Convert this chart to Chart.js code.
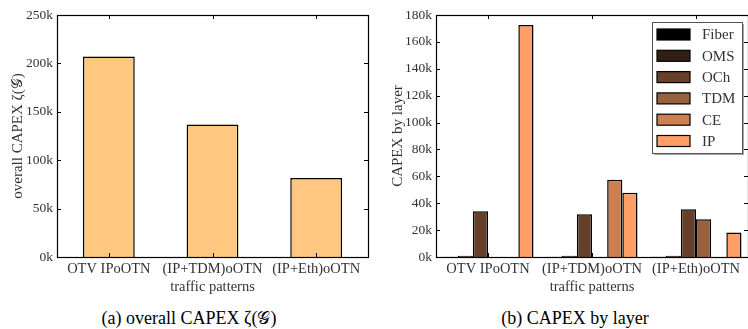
<!DOCTYPE html>
<html>
<head>
<meta charset="utf-8">
<script src="https://cdn.jsdelivr.net/npm/chart.js@4.4.1/dist/chart.umd.min.js"></script>
<style>
  html, body { margin: 0; padding: 0; background: #fff; }
  #wrap { position: relative; width: 748px; height: 329px; overflow: hidden; }
  .panel { position: absolute; top: 0; width: 374px; height: 300px; }
  .caption { position: absolute; top: 308px; width: 374px; text-align: center;
    font-family: 'Liberation Serif', serif; font-size: 18px; color: #000; }
</style>
</head>
<body>
<div id="wrap">
  <div class="panel" style="left:0"><canvas id="overall" width="374" height="300"></canvas></div>
  <div class="panel" style="left:374px"><canvas id="layers" width="374" height="300"></canvas></div>
  <div class="caption" style="left:2px">(a) overall CAPEX ζ(𝒢)</div>
  <div class="caption" style="left:388px">(b) CAPEX by layer</div>
</div>
<script>
// 数据
const patterns = ['OTV IPoOTN', '(IP+TDM)oOTN', '(IP+Eth)oOTN'];
const overallCapex = [207000, 137000, 81500];

const layerNames = ['Fiber', 'OMS', 'OCh', 'TDM', 'CE', 'IP'];
const fiberCapex = [200, 200, 200];
const omsCapex = [900, 900, 900];
const ochCapex = [34000, 31800, 35500];
const tdmCapex = [0, 0, 28000];
const ceCapex = [0, 57500, 0];
const ipCapex = [172500, 47800, 18200];
const layerColors = ['#000000', '#332014', '#664029', '#99603d', '#cc8051', '#ff9f65'];

const serif = "'Liberation Serif', 'DejaVu Serif', serif";
Chart.defaults.font.family = serif;
Chart.defaults.color = '#333';

const f = size => ({ family: serif, size: size });

// 边框与内向刻度（matplotlib 风格）
const frameTicks = {
  id: 'frameTicks',
  afterDatasetsDraw(chart) {
    const { ctx, chartArea: a, scales } = chart;
    const len = 4;
    ctx.save();
    ctx.strokeStyle = '#000';
    ctx.lineWidth = 1;
    scales.y.ticks.forEach((t, i) => {
      const y = Math.round(scales.y.getPixelForTick(i)) + 0.5;
      ctx.beginPath();
      ctx.moveTo(a.left, y); ctx.lineTo(a.left + len, y);
      ctx.moveTo(a.right, y); ctx.lineTo(a.right - len, y);
      ctx.stroke();
    });
    scales.x.ticks.forEach((t, i) => {
      const x = Math.round(scales.x.getPixelForTick(i)) + 0.5;
      ctx.beginPath();
      ctx.moveTo(x, a.bottom); ctx.lineTo(x, a.bottom - len);
      ctx.moveTo(x, a.top); ctx.lineTo(x, a.top + len);
      ctx.stroke();
    });
    ctx.lineWidth = 1.2;
    ctx.strokeRect(Math.round(a.left) + 0.5, Math.round(a.top) + 0.5,
      Math.round(a.right - a.left), Math.round(a.bottom - a.top));
    ctx.restore();
  }
};

// 图例（右上角方框）
const boxLegend = {
  id: 'boxLegend',
  afterDraw(chart) {
    const { ctx } = chart;
    const x = 278, y = 22, w = 90, h = 131;
    ctx.save();
    ctx.fillStyle = 'rgba(0,0,0,0.35)';
    ctx.fillRect(x + 2, y + 2, w, h);
    ctx.fillStyle = '#fff';
    ctx.fillRect(x, y, w, h);
    ctx.strokeStyle = '#555';
    ctx.lineWidth = 1;
    ctx.strokeRect(x + 0.5, y + 0.5, w, h);
    ctx.font = '15px ' + serif;
    ctx.textBaseline = 'middle';
    chart.data.datasets.forEach((ds, i) => {
      const cy = y + 12.5 + i * 21.3;
      ctx.fillStyle = ds.backgroundColor;
      ctx.fillRect(x + 5, cy - 5.5, 33, 11);
      ctx.strokeStyle = '#000';
      ctx.lineWidth = 1.2;
      ctx.strokeRect(x + 5, cy - 5.5, 33, 11);
      ctx.fillStyle = '#333';
      ctx.fillText(ds.label, x + 50, cy + 1);
    });
    ctx.restore();
  }
};

function axes(max, step, yTitle, yWidth, titlePad) {
  return {
    x: {
      grid: { display: false, drawTicks: false },
      border: { display: false },
      ticks: { font: f(14.5), padding: 3, maxRotation: 0, autoSkip: false },
      title: { display: true, text: 'traffic patterns', font: f(14.5), padding: { top: -2 } },
      afterFit(s) { s.height = 43; }
    },
    y: {
      min: 0, max: max,
      grid: { display: false, drawTicks: false },
      border: { display: false },
      ticks: { stepSize: step, font: f(13.5), padding: 4,
        callback: v => (v / 1000) + 'k' },
      title: { display: true, text: yTitle, font: f(15), padding: { top: titlePad, bottom: 0 } },
      afterFit(s) { s.width = yWidth; }
    }
  };
}

new Chart(document.getElementById('overall'), {
  type: 'bar',
  data: {
    labels: patterns,
    datasets: [{
      data: overallCapex,
      backgroundColor: '#ffc77f',
      borderColor: '#000',
      borderWidth: 1.5,
      barPercentage: 0.5,
      categoryPercentage: 1
    }]
  },
  options: {
    responsive: false,
    animation: false,
    layout: { padding: { top: 15, right: 6, left: 0, bottom: 0 } },
    plugins: { legend: { display: false }, tooltip: { enabled: false } },
    scales: axes(250000, 50000, 'overall CAPEX ζ(𝒢)', 57, 9)
  },
  plugins: [frameTicks]
});

const layerData = [fiberCapex, omsCapex, ochCapex, tdmCapex, ceCapex, ipCapex];
new Chart(document.getElementById('layers'), {
  type: 'bar',
  data: {
    labels: patterns,
    datasets: layerNames.map((name, i) => ({
      label: name,
      data: layerData[i],
      backgroundColor: layerColors[i],
      borderColor: '#000',
      borderWidth: 1.5,
      barPercentage: 1,
      categoryPercentage: 0.875
    }))
  },
  options: {
    responsive: false,
    animation: false,
    layout: { padding: { top: 15, right: 0, left: 0, bottom: 0 } },
    plugins: { legend: { display: false }, tooltip: { enabled: false } },
    scales: axes(180000, 20000, 'CAPEX by layer', 62, 15)
  },
  plugins: [frameTicks, boxLegend]
});
</script>
</body>
</html>
